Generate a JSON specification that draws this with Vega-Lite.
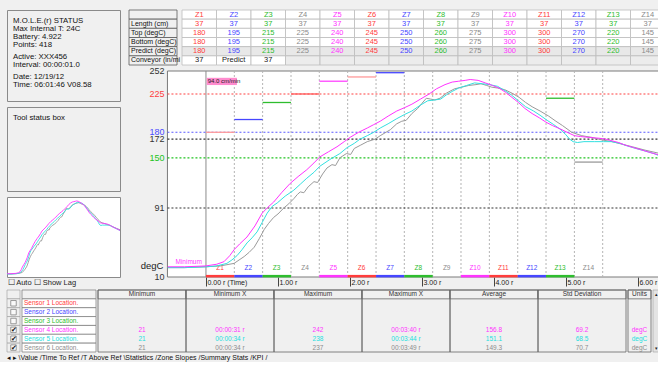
{
  "$schema": "https://vega.github.io/schema/vega-lite/v6.json",
  "background": "#f0f0f0",
  "padding": {"left": 6, "top": 9, "right": 0, "bottom": 0},
  "config": {
    "font": "Liberation Sans, Arial, sans-serif",
    "view": {"stroke": null},
    "axis": {"labelOverlap": false}
  },
  "datasets": {
    "status": [
      {"line": 0, "text": "M.O.L.E.(r) STATUS"},
      {"line": 1, "text": "Max Internal T: 24C"},
      {"line": 2, "text": "Battery: 4.922"},
      {"line": 3, "text": "Points: 418"},
      {"line": 4.5, "text": "Active: XXX456"},
      {"line": 5.5, "text": "Interval: 00:00:01.0"},
      {"line": 7, "text": "Date: 12/19/12"},
      {"line": 8, "text": "Time: 06:01:46 V08.58"}
    ],
    "ylabels": [
      {"v": "252", "T": 252},
      {"v": "225", "T": 225},
      {"v": "180", "T": 180},
      {"v": "172", "T": 172},
      {"v": "150", "T": 150},
      {"v": "91", "T": 91},
      {"v": "10", "T": 10}
    ],
    "zonetable": [
      {"row": "hdr", "label": "", "Z1": "Z1", "Z2": "Z2", "Z3": "Z3", "Z4": "Z4", "Z5": "Z5", "Z6": "Z6", "Z7": "Z7", "Z8": "Z8", "Z9": "Z9", "Z10": "Z10", "Z11": "Z11", "Z12": "Z12", "Z13": "Z13", "Z14": "Z14"},
      {"row": "len", "label": "Length (cm)", "Z1": "37", "Z2": "37", "Z3": "37", "Z4": "37", "Z5": "37", "Z6": "37", "Z7": "37", "Z8": "37", "Z9": "37", "Z10": "37", "Z11": "37", "Z12": "37", "Z13": "37", "Z14": "37"},
      {"row": "top", "label": "Top (degC)", "Z1": "180", "Z2": "195", "Z3": "215", "Z4": "225", "Z5": "240", "Z6": "245", "Z7": "250", "Z8": "260", "Z9": "275", "Z10": "300", "Z11": "300", "Z12": "270", "Z13": "220", "Z14": "145"},
      {"row": "bot", "label": "Bottom (degC)", "Z1": "180", "Z2": "195", "Z3": "215", "Z4": "225", "Z5": "240", "Z6": "245", "Z7": "250", "Z8": "260", "Z9": "275", "Z10": "300", "Z11": "300", "Z12": "270", "Z13": "220", "Z14": "145"},
      {"row": "pred", "label": "Predict (degC)", "Z1": "180", "Z2": "195", "Z3": "215", "Z4": "225", "Z5": "240", "Z6": "245", "Z7": "250", "Z8": "260", "Z9": "275", "Z10": "300", "Z11": "300", "Z12": "270", "Z13": "220", "Z14": "145"},
      {"row": "conv", "label": "Conveyor (in/mi", "Z1": "37", "Z2": "Predict", "Z3": "37", "Z4": "", "Z5": "", "Z6": "", "Z7": "", "Z8": "", "Z9": "", "Z10": "", "Z11": "", "Z12": "", "Z13": "", "Z14": ""}
    ],
    "zones": [
      {"zone": "Z1", "start": 0, "end": 0.394, "top": 180},
      {"zone": "Z2", "start": 0.394, "end": 0.787, "top": 195},
      {"zone": "Z3", "start": 0.787, "end": 1.181, "top": 215},
      {"zone": "Z4", "start": 1.181, "end": 1.574, "top": 225},
      {"zone": "Z5", "start": 1.574, "end": 1.968, "top": 240},
      {"zone": "Z6", "start": 1.968, "end": 2.362, "top": 245},
      {"zone": "Z7", "start": 2.362, "end": 2.755, "top": 250},
      {"zone": "Z8", "start": 2.755, "end": 3.149, "top": 260},
      {"zone": "Z9", "start": 3.149, "end": 3.542, "top": 275},
      {"zone": "Z10", "start": 3.542, "end": 3.936, "top": 300},
      {"zone": "Z11", "start": 3.936, "end": 4.33, "top": 300},
      {"zone": "Z12", "start": 4.33, "end": 4.723, "top": 270},
      {"zone": "Z13", "start": 4.723, "end": 5.117, "top": 220},
      {"zone": "Z14", "start": 5.117, "end": 5.51, "top": 145}
    ],
    "refs": [
      {"ref": "r225", "T": 225},
      {"ref": "r180", "T": 180},
      {"ref": "r172", "T": 172},
      {"ref": "r150", "T": 150},
      {"ref": "r91", "T": 91}
    ],
    "stats": [
      {"row": "hdr", "name": "", "chk": "", "Minimum": "Minimum", "MinX": "Minimum X", "Maximum": "Maximum", "MaxX": "Maximum X", "Average": "Average", "Std": "Std Deviation", "Units": "Units"},
      {"row": "S1", "name": "Sensor 1 Location.", "chk": "no", "Minimum": "", "MinX": "", "Maximum": "", "MaxX": "", "Average": "", "Std": "", "Units": ""},
      {"row": "S2", "name": "Sensor 2 Location.", "chk": "no", "Minimum": "", "MinX": "", "Maximum": "", "MaxX": "", "Average": "", "Std": "", "Units": ""},
      {"row": "S3", "name": "Sensor 3 Location.", "chk": "no", "Minimum": "", "MinX": "", "Maximum": "", "MaxX": "", "Average": "", "Std": "", "Units": ""},
      {"row": "S4", "name": "Sensor 4 Location.", "chk": "yes", "Minimum": "21", "MinX": "00:00:31 r", "Maximum": "242", "MaxX": "00:03:40 r", "Average": "156.8", "Std": "69.2", "Units": "degC"},
      {"row": "S5", "name": "Sensor 5 Location.", "chk": "yes", "Minimum": "21", "MinX": "00:00:34 r", "Maximum": "238", "MaxX": "00:03:44 r", "Average": "151.1", "Std": "68.5", "Units": "degC"},
      {"row": "S6", "name": "Sensor 6 Location.", "chk": "yes", "Minimum": "21", "MinX": "00:00:34 r", "Maximum": "237", "MaxX": "00:03:49 r", "Average": "149.3", "Std": "70.7", "Units": "degC"}
    ],
    "curves": [
      {"s": "S6", "t": -0.53, "T": 21}, {"s": "S6", "t": -0.3, "T": 21}, {"s": "S6", "t": 0, "T": 22}, {"s": "S6", "t": 0.2, "T": 23},
      {"s": "S6", "t": 0.39, "T": 26}, {"s": "S6", "t": 0.46, "T": 30}, {"s": "S6", "t": 0.53, "T": 34}, {"s": "S6", "t": 0.6, "T": 39},
      {"s": "S6", "t": 0.67, "T": 45}, {"s": "S6", "t": 0.74, "T": 55}, {"s": "S6", "t": 0.81, "T": 66}, {"s": "S6", "t": 0.87, "T": 73},
      {"s": "S6", "t": 0.94, "T": 80}, {"s": "S6", "t": 1.0, "T": 84}, {"s": "S6", "t": 1.08, "T": 91}, {"s": "S6", "t": 1.15, "T": 96},
      {"s": "S6", "t": 1.22, "T": 102}, {"s": "S6", "t": 1.27, "T": 107}, {"s": "S6", "t": 1.31, "T": 110}, {"s": "S6", "t": 1.36, "T": 109},
      {"s": "S6", "t": 1.42, "T": 116}, {"s": "S6", "t": 1.5, "T": 122}, {"s": "S6", "t": 1.55, "T": 121}, {"s": "S6", "t": 1.62, "T": 131},
      {"s": "S6", "t": 1.68, "T": 138}, {"s": "S6", "t": 1.75, "T": 142}, {"s": "S6", "t": 1.8, "T": 141}, {"s": "S6", "t": 1.86, "T": 150},
      {"s": "S6", "t": 1.95, "T": 155}, {"s": "S6", "t": 2.01, "T": 154}, {"s": "S6", "t": 2.06, "T": 161}, {"s": "S6", "t": 2.15, "T": 165},
      {"s": "S6", "t": 2.24, "T": 169}, {"s": "S6", "t": 2.35, "T": 172}, {"s": "S6", "t": 2.42, "T": 176}, {"s": "S6", "t": 2.5, "T": 180},
      {"s": "S6", "t": 2.56, "T": 183}, {"s": "S6", "t": 2.65, "T": 190}, {"s": "S6", "t": 2.72, "T": 193}, {"s": "S6", "t": 2.78, "T": 194},
      {"s": "S6", "t": 2.86, "T": 202}, {"s": "S6", "t": 2.94, "T": 208}, {"s": "S6", "t": 3.0, "T": 214}, {"s": "S6", "t": 3.06, "T": 220},
      {"s": "S6", "t": 3.12, "T": 219}, {"s": "S6", "t": 3.18, "T": 218}, {"s": "S6", "t": 3.25, "T": 220}, {"s": "S6", "t": 3.34, "T": 226},
      {"s": "S6", "t": 3.45, "T": 231}, {"s": "S6", "t": 3.55, "T": 233}, {"s": "S6", "t": 3.65, "T": 235}, {"s": "S6", "t": 3.75, "T": 236},
      {"s": "S6", "t": 3.82, "T": 237}, {"s": "S6", "t": 3.9, "T": 235}, {"s": "S6", "t": 3.97, "T": 233}, {"s": "S6", "t": 4.05, "T": 232},
      {"s": "S6", "t": 4.15, "T": 230}, {"s": "S6", "t": 4.25, "T": 226}, {"s": "S6", "t": 4.35, "T": 221}, {"s": "S6", "t": 4.44, "T": 215},
      {"s": "S6", "t": 4.53, "T": 210}, {"s": "S6", "t": 4.64, "T": 205}, {"s": "S6", "t": 4.76, "T": 199}, {"s": "S6", "t": 4.86, "T": 193},
      {"s": "S6", "t": 4.95, "T": 188}, {"s": "S6", "t": 5.08, "T": 180}, {"s": "S6", "t": 5.22, "T": 176}, {"s": "S6", "t": 5.36, "T": 174},
      {"s": "S6", "t": 5.5, "T": 171}, {"s": "S6", "t": 5.64, "T": 169}, {"s": "S6", "t": 5.78, "T": 166}, {"s": "S6", "t": 5.92, "T": 163},
      {"s": "S6", "t": 6.1, "T": 159}, {"s": "S6", "t": 6.31, "T": 155},
      {"s": "S5", "t": -0.53, "T": 21}, {"s": "S5", "t": -0.3, "T": 21}, {"s": "S5", "t": 0, "T": 22}, {"s": "S5", "t": 0.15, "T": 23},
      {"s": "S5", "t": 0.29, "T": 26}, {"s": "S5", "t": 0.36, "T": 30}, {"s": "S5", "t": 0.43, "T": 35}, {"s": "S5", "t": 0.5, "T": 42},
      {"s": "S5", "t": 0.57, "T": 50}, {"s": "S5", "t": 0.64, "T": 56}, {"s": "S5", "t": 0.71, "T": 63}, {"s": "S5", "t": 0.78, "T": 74},
      {"s": "S5", "t": 0.85, "T": 85}, {"s": "S5", "t": 0.92, "T": 93}, {"s": "S5", "t": 0.99, "T": 97}, {"s": "S5", "t": 1.1, "T": 105},
      {"s": "S5", "t": 1.22, "T": 112}, {"s": "S5", "t": 1.31, "T": 119}, {"s": "S5", "t": 1.4, "T": 126}, {"s": "S5", "t": 1.5, "T": 133},
      {"s": "S5", "t": 1.58, "T": 140}, {"s": "S5", "t": 1.72, "T": 148}, {"s": "S5", "t": 1.86, "T": 155}, {"s": "S5", "t": 1.96, "T": 162},
      {"s": "S5", "t": 2.06, "T": 167}, {"s": "S5", "t": 2.14, "T": 172}, {"s": "S5", "t": 2.24, "T": 176}, {"s": "S5", "t": 2.33, "T": 180},
      {"s": "S5", "t": 2.42, "T": 185}, {"s": "S5", "t": 2.53, "T": 190}, {"s": "S5", "t": 2.65, "T": 196}, {"s": "S5", "t": 2.76, "T": 201},
      {"s": "S5", "t": 2.86, "T": 205}, {"s": "S5", "t": 2.98, "T": 212}, {"s": "S5", "t": 3.08, "T": 217}, {"s": "S5", "t": 3.18, "T": 218},
      {"s": "S5", "t": 3.26, "T": 219}, {"s": "S5", "t": 3.34, "T": 224}, {"s": "S5", "t": 3.42, "T": 228}, {"s": "S5", "t": 3.51, "T": 232},
      {"s": "S5", "t": 3.62, "T": 235}, {"s": "S5", "t": 3.73, "T": 238}, {"s": "S5", "t": 3.84, "T": 237}, {"s": "S5", "t": 3.94, "T": 236},
      {"s": "S5", "t": 4.05, "T": 234}, {"s": "S5", "t": 4.15, "T": 229}, {"s": "S5", "t": 4.24, "T": 224}, {"s": "S5", "t": 4.34, "T": 217},
      {"s": "S5", "t": 4.44, "T": 210}, {"s": "S5", "t": 4.55, "T": 205}, {"s": "S5", "t": 4.64, "T": 200}, {"s": "S5", "t": 4.74, "T": 194},
      {"s": "S5", "t": 4.83, "T": 189}, {"s": "S5", "t": 4.93, "T": 183}, {"s": "S5", "t": 5.0, "T": 177}, {"s": "S5", "t": 5.05, "T": 172},
      {"s": "S5", "t": 5.1, "T": 169}, {"s": "S5", "t": 5.16, "T": 168}, {"s": "S5", "t": 5.25, "T": 169}, {"s": "S5", "t": 5.4, "T": 169},
      {"s": "S5", "t": 5.52, "T": 169}, {"s": "S5", "t": 5.63, "T": 169}, {"s": "S5", "t": 5.75, "T": 167}, {"s": "S5", "t": 5.85, "T": 164},
      {"s": "S5", "t": 5.97, "T": 161}, {"s": "S5", "t": 6.1, "T": 158}, {"s": "S5", "t": 6.22, "T": 155}, {"s": "S5", "t": 6.31, "T": 152},
      {"s": "S4", "t": -0.53, "T": 22}, {"s": "S4", "t": -0.3, "T": 22}, {"s": "S4", "t": 0, "T": 23}, {"s": "S4", "t": 0.15, "T": 25},
      {"s": "S4", "t": 0.25, "T": 28}, {"s": "S4", "t": 0.33, "T": 35}, {"s": "S4", "t": 0.39, "T": 42}, {"s": "S4", "t": 0.47, "T": 49},
      {"s": "S4", "t": 0.57, "T": 57}, {"s": "S4", "t": 0.68, "T": 70}, {"s": "S4", "t": 0.78, "T": 85}, {"s": "S4", "t": 0.86, "T": 92},
      {"s": "S4", "t": 0.94, "T": 98}, {"s": "S4", "t": 1.05, "T": 109}, {"s": "S4", "t": 1.17, "T": 120}, {"s": "S4", "t": 1.28, "T": 128},
      {"s": "S4", "t": 1.4, "T": 136}, {"s": "S4", "t": 1.5, "T": 144}, {"s": "S4", "t": 1.58, "T": 151}, {"s": "S4", "t": 1.7, "T": 157},
      {"s": "S4", "t": 1.82, "T": 163}, {"s": "S4", "t": 1.92, "T": 169}, {"s": "S4", "t": 2.0, "T": 174}, {"s": "S4", "t": 2.12, "T": 180},
      {"s": "S4", "t": 2.24, "T": 185}, {"s": "S4", "t": 2.33, "T": 189}, {"s": "S4", "t": 2.42, "T": 193}, {"s": "S4", "t": 2.53, "T": 199},
      {"s": "S4", "t": 2.65, "T": 205}, {"s": "S4", "t": 2.76, "T": 209}, {"s": "S4", "t": 2.86, "T": 213}, {"s": "S4", "t": 2.98, "T": 219},
      {"s": "S4", "t": 3.1, "T": 225}, {"s": "S4", "t": 3.2, "T": 231}, {"s": "S4", "t": 3.32, "T": 236}, {"s": "S4", "t": 3.42, "T": 239},
      {"s": "S4", "t": 3.51, "T": 240}, {"s": "S4", "t": 3.6, "T": 241}, {"s": "S4", "t": 3.67, "T": 242}, {"s": "S4", "t": 3.78, "T": 241},
      {"s": "S4", "t": 3.88, "T": 238}, {"s": "S4", "t": 3.98, "T": 235}, {"s": "S4", "t": 4.07, "T": 232}, {"s": "S4", "t": 4.16, "T": 227},
      {"s": "S4", "t": 4.25, "T": 221}, {"s": "S4", "t": 4.34, "T": 215}, {"s": "S4", "t": 4.43, "T": 208}, {"s": "S4", "t": 4.53, "T": 202},
      {"s": "S4", "t": 4.63, "T": 197}, {"s": "S4", "t": 4.72, "T": 192}, {"s": "S4", "t": 4.81, "T": 188}, {"s": "S4", "t": 4.92, "T": 184},
      {"s": "S4", "t": 5.04, "T": 179}, {"s": "S4", "t": 5.12, "T": 176}, {"s": "S4", "t": 5.2, "T": 175}, {"s": "S4", "t": 5.32, "T": 174},
      {"s": "S4", "t": 5.46, "T": 173}, {"s": "S4", "t": 5.55, "T": 172}, {"s": "S4", "t": 5.64, "T": 170}, {"s": "S4", "t": 5.73, "T": 168},
      {"s": "S4", "t": 5.82, "T": 165}, {"s": "S4", "t": 5.94, "T": 162}, {"s": "S4", "t": 6.06, "T": 159}, {"s": "S4", "t": 6.18, "T": 156},
      {"s": "S4", "t": 6.31, "T": 153}
    ]
  },
  "spacing": 2,
  "resolve": {"scale": {"color": "independent"}},
  "vconcat": [
    {
      "spacing": 7,
      "resolve": {"scale": {"color": "independent"}},
      "hconcat": [
        {
          "spacing": 4,
          "resolve": {"scale": {"color": "independent"}},
          "vconcat": [
            {
              "width": 113, "height": 91,
              "view": {"fill": "#f0f0f0", "stroke": "#8a8a8a"},
              "data": {"name": "status"},
              "mark": {"type": "text", "align": "left", "baseline": "middle", "fontSize": 7.8, "color": "#111111", "dx": 6},
              "encoding": {
                "x": {"datum": 0, "type": "quantitative", "scale": {"domain": [0, 1]}, "axis": null},
                "y": {"field": "line", "type": "quantitative", "scale": {"domain": [-1.375, 10], "reverse": true, "nice": false, "zero": false}, "axis": null},
                "text": {"field": "text"}
              }
            },
            {
              "width": 113, "height": 84,
              "view": {"fill": "#f0f0f0", "stroke": "#8a8a8a"},
              "data": {"values": [{"t": "Tool status box"}]},
              "mark": {"type": "text", "align": "left", "baseline": "top", "fontSize": 7.8, "color": "#111111", "dx": 6, "dy": 7},
              "encoding": {
                "x": {"datum": 0, "type": "quantitative", "scale": {"domain": [0, 1]}, "axis": null},
                "y": {"datum": 1, "type": "quantitative", "scale": {"domain": [0, 1]}, "axis": null},
                "text": {"field": "t"}
              }
            },
            {
              "width": 113, "height": 80,
              "view": {"fill": "#ffffff", "stroke": "#8a8a8a"},
              "data": {"name": "curves"},
              "mark": {"type": "line", "strokeWidth": 0.9, "clip": true},
              "encoding": {
                "x": {"field": "t", "type": "quantitative", "scale": {"domain": [-0.54, 6.31], "nice": false, "zero": false},
                  "axis": {"title": "☐ Auto    ☐ Show Lag", "labels": false, "ticks": false, "domain": false, "grid": false, "titleFontSize": 7.5, "titleFontWeight": "normal", "titleAnchor": "start", "titlePadding": 1, "titleColor": "#222222"}},
                "y": {"field": "T", "type": "quantitative", "scale": {"domain": [12, 254], "nice": false, "zero": false}, "axis": null},
                "color": {"field": "s", "type": "nominal", "scale": {"domain": ["S4", "S5", "S6"], "range": ["#ff33ff", "#33e0e0", "#9a9a9a"]}, "legend": null}
              }
            }
          ]
        },
        {
          "spacing": 1,
          "resolve": {"scale": {"color": "independent"}},
          "vconcat": [
            {
              "spacing": 0,
              "resolve": {"scale": {"color": "independent"}},
              "hconcat": [
                {
                  "width": 48, "height": 55,
                  "data": {"name": "zonetable"},
                  "encoding": {
                    "y": {"field": "row", "type": "nominal", "sort": null, "scale": {"type": "band", "domain": ["hdr", "len", "top", "bot", "pred", "conv"], "paddingInner": 0, "paddingOuter": 0}, "axis": null}
                  },
                  "layer": [
                    {"mark": {"type": "rect", "fill": "#f0f0f0", "stroke": "#5a5a5a", "strokeWidth": 0.8}},
                    {"mark": {"type": "text", "align": "left", "baseline": "middle", "fontSize": 7, "color": "#111111", "dx": 2},
                     "encoding": {"x": {"datum": 0, "type": "quantitative", "scale": {"domain": [0, 1]}, "axis": null}, "text": {"field": "label"}}}
                  ]
                },
                {
                  "width": 483, "height": 55,
                  "data": {"name": "zonetable"},
                  "transform": [{"fold": ["Z1", "Z2", "Z3", "Z4", "Z5", "Z6", "Z7", "Z8", "Z9", "Z10", "Z11", "Z12", "Z13", "Z14"], "as": ["zone", "val"]}],
                  "encoding": {
                    "x": {"field": "zone", "type": "nominal", "sort": null, "scale": {"type": "band", "domain": ["Z1", "Z2", "Z3", "Z4", "Z5", "Z6", "Z7", "Z8", "Z9", "Z10", "Z11", "Z12", "Z13", "Z14"], "paddingInner": 0, "paddingOuter": 0}, "axis": null},
                    "y": {"field": "row", "type": "nominal", "sort": null, "scale": {"type": "band", "domain": ["hdr", "len", "top", "bot", "pred", "conv"], "paddingInner": 0, "paddingOuter": 0}, "axis": null}
                  },
                  "layer": [
                    {"mark": {"type": "rect", "stroke": "#bdbdbd", "strokeWidth": 0.8},
                     "encoding": {"fill": {"condition": [{"test": "datum.row === 'pred'", "value": "#e8e8e8"}, {"test": "datum.row === 'conv' && indexof(['Z1','Z2','Z3'], datum.zone) < 0", "value": "#ececec"}], "value": "#ffffff"}}},
                    {"mark": {"type": "text", "align": "center", "baseline": "middle", "fontSize": 7.5},
                     "encoding": {
                       "text": {"field": "val"},
                       "color": {"condition": {"test": "datum.row === 'conv'", "value": "#222222"}, "field": "zone", "type": "nominal", "scale": {"domain": ["Z1", "Z2", "Z3", "Z4", "Z5", "Z6", "Z7", "Z8", "Z9", "Z10", "Z11", "Z12", "Z13", "Z14"], "range": ["#ff3c3c", "#4646ff", "#2ebd2e", "#8a8a8a", "#ff33ff", "#ff3c3c", "#4646ff", "#2ebd2e", "#8a8a8a", "#ff33ff", "#ff3c3c", "#4646ff", "#2ebd2e", "#8a8a8a"]}, "legend": null}
                     }}
                  ]
                }
              ]
            },
            {
              "width": 531, "height": 206,
              "view": {"stroke": null, "fill": null},
              "resolve": {"scale": {"color": "independent"}},
              "layer": [
                {
                  "data": {"values": [{}]},
                  "mark": {"type": "rect", "fill": "#ffffff", "stroke": "#7a7a7a", "strokeWidth": 1},
                  "encoding": {
                    "x": {"datum": -0.535, "type": "quantitative", "title": null, "scale": {"domain": [-1.069, 6.306], "nice": false, "zero": false}},
                    "x2": {"datum": 6.306},
                    "y": {"datum": 10, "type": "quantitative", "title": null, "scale": {"domain": [10, 252], "nice": false, "zero": false}, "axis": null},
                    "y2": {"datum": 252}
                  }
                },
                {
                  "data": {"name": "zones"},
                  "mark": {"type": "rule", "stroke": "#b4b4b4", "strokeDash": [2, 2], "strokeWidth": 1},
                  "encoding": {
                    "x": {"field": "end", "type": "quantitative", "title": null, "scale": {"domain": [-1.069, 6.306], "nice": false, "zero": false}}
                  }
                },
                {
                  "data": {"values": [{}]},
                  "mark": {"type": "rule", "stroke": "#8c8c8c", "strokeWidth": 1},
                  "encoding": {
                    "x": {"datum": 0, "type": "quantitative", "title": null, "scale": {"domain": [-1.069, 6.306], "nice": false, "zero": false}}
                  }
                },
                {
                  "data": {"name": "refs"},
                  "mark": {"type": "rule", "strokeDash": [2, 2], "strokeWidth": 1.1},
                  "encoding": {
                    "x": {"datum": -0.535, "type": "quantitative", "title": null, "scale": {"domain": [-1.069, 6.306], "nice": false, "zero": false}},
                    "x2": {"datum": 6.306},
                    "y": {"field": "T", "type": "quantitative", "title": null, "scale": {"domain": [10, 252], "nice": false, "zero": false}, "axis": null},
                    "color": {"field": "ref", "type": "nominal", "scale": {"domain": ["r225", "r180", "r172", "r150", "r91"], "range": ["#ff4040", "#5a5aff", "#333333", "#22c422", "#333333"]}, "legend": null}
                  }
                },
                {
                  "data": {"name": "zones"},
                  "transform": [{"filter": "datum.top <= 252"}],
                  "mark": {"type": "rule", "strokeWidth": 1.3},
                  "encoding": {
                    "x": {"field": "start", "type": "quantitative", "title": null, "scale": {"domain": [-1.069, 6.306], "nice": false, "zero": false}},
                    "x2": {"field": "end"},
                    "y": {"field": "top", "type": "quantitative", "title": null, "scale": {"domain": [10, 252], "nice": false, "zero": false}, "axis": null},
                    "color": {"field": "zone", "type": "nominal", "scale": {"domain": ["Z1", "Z2", "Z3", "Z4", "Z5", "Z6", "Z7", "Z13", "Z14"], "range": ["#ff9a9a", "#4646ff", "#2ebd2e", "#ff5a5a", "#ff44ff", "#ff9a9a", "#4646ff", "#2ebd2e", "#9a9a9a"]}, "legend": null}
                  }
                },
                {
                  "data": {"name": "zones"},
                  "transform": [{"filter": "indexof(['Z4','Z9','Z14'], datum.zone) < 0"}],
                  "mark": {"type": "rule", "strokeWidth": 2.5},
                  "encoding": {
                    "x": {"field": "start", "type": "quantitative", "title": null, "scale": {"domain": [-1.069, 6.306], "nice": false, "zero": false}},
                    "x2": {"field": "end"},
                    "y": {"datum": 11, "type": "quantitative", "title": null, "scale": {"domain": [10, 252], "nice": false, "zero": false}, "axis": null},
                    "color": {"field": "zone", "type": "nominal", "scale": {"domain": ["Z1", "Z2", "Z3", "Z4", "Z5", "Z6", "Z7", "Z8", "Z9", "Z10", "Z11", "Z12", "Z13", "Z14"], "range": ["#ff3c3c", "#4646ff", "#2ebd2e", "#8a8a8a", "#ff33ff", "#ff3c3c", "#4646ff", "#2ebd2e", "#8a8a8a", "#ff33ff", "#ff3c3c", "#4646ff", "#2ebd2e", "#8a8a8a"]}, "legend": null}
                  }
                },
                {
                  "data": {"name": "zones"},
                  "mark": {"type": "text", "fontSize": 6.5, "dx": 14, "align": "center", "baseline": "middle"},
                  "encoding": {
                    "x": {"field": "start", "type": "quantitative", "title": null, "scale": {"domain": [-1.069, 6.306], "nice": false, "zero": false}},
                    "y": {"datum": 20.5, "type": "quantitative", "title": null, "scale": {"domain": [10, 252], "nice": false, "zero": false}, "axis": null},
                    "text": {"field": "zone"},
                    "color": {"field": "zone", "type": "nominal", "scale": {"domain": ["Z1", "Z2", "Z3", "Z4", "Z5", "Z6", "Z7", "Z8", "Z9", "Z10", "Z11", "Z12", "Z13", "Z14"], "range": ["#ff3c3c", "#4646ff", "#2ebd2e", "#8a8a8a", "#ff33ff", "#ff3c3c", "#4646ff", "#2ebd2e", "#8a8a8a", "#ff33ff", "#ff3c3c", "#4646ff", "#2ebd2e", "#8a8a8a"]}, "legend": null}
                  }
                },
                {
                  "data": {"values": [{}]},
                  "mark": {"type": "rect", "fill": "#ff8ccf"},
                  "encoding": {
                    "x": {"datum": 0.01, "type": "quantitative", "title": null, "scale": {"domain": [-1.069, 6.306], "nice": false, "zero": false}},
                    "x2": {"datum": 0.43},
                    "y": {"datum": 235.5, "type": "quantitative", "title": null, "scale": {"domain": [10, 252], "nice": false, "zero": false}, "axis": null},
                    "y2": {"datum": 244}
                  }
                },
                {
                  "data": {"values": [{"label": "94.0 cm/min"}]},
                  "mark": {"type": "text", "fontSize": 6, "align": "left", "baseline": "middle", "color": "#222222", "dx": 1},
                  "encoding": {
                    "x": {"datum": 0.01, "type": "quantitative", "title": null, "scale": {"domain": [-1.069, 6.306], "nice": false, "zero": false}},
                    "y": {"datum": 239.8, "type": "quantitative", "title": null, "scale": {"domain": [10, 252], "nice": false, "zero": false}, "axis": null},
                    "text": {"field": "label"}
                  }
                },
                {
                  "data": {"values": [{"label": "Minimum"}]},
                  "mark": {"type": "text", "fontSize": 6.5, "align": "center", "baseline": "bottom", "color": "#ff33ff"},
                  "encoding": {
                    "x": {"datum": -0.24, "type": "quantitative", "title": null, "scale": {"domain": [-1.069, 6.306], "nice": false, "zero": false}},
                    "y": {"datum": 24, "type": "quantitative", "title": null, "scale": {"domain": [10, 252], "nice": false, "zero": false}, "axis": null},
                    "text": {"field": "label"}
                  }
                },
                {
                  "data": {"values": [{"label": "degC"}]},
                  "mark": {"type": "text", "fontSize": 9.5, "align": "right", "baseline": "middle", "color": "#222222", "dx": -4},
                  "encoding": {
                    "x": {"datum": -0.535, "type": "quantitative", "title": null, "scale": {"domain": [-1.069, 6.306], "nice": false, "zero": false}},
                    "y": {"datum": 23, "type": "quantitative", "title": null, "scale": {"domain": [10, 252], "nice": false, "zero": false}, "axis": null},
                    "text": {"field": "label"}
                  }
                },
                {
                  "data": {"name": "ylabels"},
                  "mark": {"type": "text", "fontSize": 9, "align": "right", "baseline": "middle", "dx": -3},
                  "encoding": {
                    "x": {"datum": -0.535, "type": "quantitative", "title": null, "scale": {"domain": [-1.069, 6.306], "nice": false, "zero": false}},
                    "y": {"field": "T", "type": "quantitative", "title": null, "scale": {"domain": [10, 252], "nice": false, "zero": false}, "axis": null},
                    "yOffset": {"condition": [{"test": "datum.v === '180'", "value": -1.6}, {"test": "datum.v === '172'", "value": 1.6}], "value": 0},
                    "text": {"field": "v"},
                    "color": {"field": "v", "type": "nominal", "scale": {"domain": ["252", "225", "180", "172", "150", "91", "10"], "range": ["#333333", "#ff4040", "#4a4aff", "#333333", "#22c422", "#333333", "#333333"]}, "legend": null}
                  }
                },
                {
                  "data": {"name": "curves"},
                  "mark": {"type": "line", "strokeWidth": 1, "clip": true},
                  "encoding": {
                    "x": {"field": "t", "type": "quantitative", "title": null, "scale": {"domain": [-1.069, 6.306], "nice": false, "zero": false},
                      "axis": {"values": [0, 1, 2, 3, 4, 5, 6], "labelExpr": "datum.value == 0 ? '0.00 r (Time)' : format(datum.value, '.2f') + ' r'", "labelAlign": "left", "labelBaseline": "top", "labelOffset": 1, "labelPadding": -8, "tickSize": 9, "tickColor": "#444444", "domain": false, "grid": false, "title": null, "labelFontSize": 7, "labelColor": "#222222", "labelFlush": false, "labelOverlap": false}},
                    "y": {"field": "T", "type": "quantitative", "title": null, "scale": {"domain": [10, 252], "nice": false, "zero": false}, "axis": null},
                    "color": {"field": "s", "type": "nominal", "scale": {"domain": ["S4", "S5", "S6"], "range": ["#ff33ff", "#33e0e0", "#9a9a9a"]}, "legend": null}
                  }
                }
              ]
            }
          ]
        }
      ]
    },
    {
      "spacing": 0,
      "resolve": {"scale": {"color": "independent"}},
      "title": {"text": "◂ ▸ \\Value /Time To Ref /T Above Ref \\Statistics /Zone Slopes /Summary Stats /KPI /", "orient": "bottom", "anchor": "start", "fontSize": 7, "fontWeight": "normal", "color": "#111111", "offset": 2},
      "hconcat": [
        {
          "width": 13, "height": 62,
          "data": {"name": "stats"},
          "encoding": {
            "y": {"field": "row", "type": "nominal", "sort": null, "scale": {"type": "band", "domain": ["hdr", "S1", "S2", "S3", "S4", "S5", "S6"], "paddingInner": 0, "paddingOuter": 0}, "axis": null}
          },
          "layer": [
            {"mark": {"type": "rect", "fill": "#f0f0f0", "stroke": "#9a9a9a", "strokeWidth": 0.6}},
            {"transform": [{"filter": "datum.row !== 'hdr'"}],
             "mark": {"type": "point", "shape": "square", "size": 30, "filled": true, "fill": "#ffffff", "stroke": "#555555", "strokeWidth": 0.8},
             "encoding": {"x": {"datum": 0.5, "type": "quantitative", "scale": {"domain": [0, 1]}, "axis": null}}},
            {"transform": [{"filter": "datum.chk === 'yes'"}],
             "mark": {"type": "text", "text": "✔", "fontSize": 7, "color": "#111111", "align": "center", "baseline": "middle"},
             "encoding": {"x": {"datum": 0.5, "type": "quantitative", "scale": {"domain": [0, 1]}, "axis": null}}}
          ]
        },
        {
          "width": 74, "height": 62,
          "data": {"name": "stats"},
          "encoding": {
            "y": {"field": "row", "type": "nominal", "sort": null, "scale": {"type": "band", "domain": ["hdr", "S1", "S2", "S3", "S4", "S5", "S6"], "paddingInner": 0, "paddingOuter": 0}, "axis": null}
          },
          "layer": [
            {"mark": {"type": "rect", "stroke": "#777777", "strokeWidth": 0.7},
             "encoding": {"fill": {"condition": {"test": "datum.row === 'hdr'", "value": "#f0f0f0"}, "value": "#ffffff"}}},
            {"mark": {"type": "text", "align": "left", "baseline": "middle", "fontSize": 6.5, "dx": 2},
             "encoding": {
               "x": {"datum": 0, "type": "quantitative", "scale": {"domain": [0, 1]}, "axis": null},
               "text": {"field": "name"},
               "color": {"field": "row", "type": "nominal", "scale": {"domain": ["hdr", "S1", "S2", "S3", "S4", "S5", "S6"], "range": ["#333333", "#ff3c3c", "#4646ff", "#2ebd2e", "#ff33ff", "#22dede", "#8c8c8c"]}, "legend": null}
             }}
          ]
        },
        {
          "width": 528, "height": 62,
          "data": {"name": "stats"},
          "transform": [{"fold": ["Minimum", "MinX", "Maximum", "MaxX", "Average", "Std"], "as": ["col", "val"]}],
          "encoding": {
            "x": {"field": "col", "type": "nominal", "sort": null, "scale": {"type": "band", "domain": ["Minimum", "MinX", "Maximum", "MaxX", "Average", "Std"], "paddingInner": 0, "paddingOuter": 0}, "axis": null}
          },
          "layer": [
            {"transform": [{"filter": "datum.row === 'hdr'"}],
             "mark": {"type": "rect", "fill": "#f0f0f0", "stroke": "#666666", "strokeWidth": 0.8},
             "encoding": {"y": {"field": "row", "type": "nominal", "sort": null, "scale": {"type": "band", "domain": ["hdr", "S1", "S2", "S3", "S4", "S5", "S6"], "paddingInner": 0, "paddingOuter": 0}, "axis": null}}},
            {"transform": [{"filter": "datum.row === 'hdr'"}],
             "mark": {"type": "rect", "fillOpacity": 0, "fill": "#ffffff", "stroke": "#666666", "strokeWidth": 0.8}},
            {"mark": {"type": "text", "align": "center", "baseline": "middle", "fontSize": 6.5},
             "encoding": {
               "y": {"field": "row", "type": "nominal", "sort": null, "scale": {"type": "band", "domain": ["hdr", "S1", "S2", "S3", "S4", "S5", "S6"], "paddingInner": 0, "paddingOuter": 0}, "axis": null},
               "text": {"field": "val"},
               "fontWeight": {"condition": {"test": "datum.row === 'S4' && datum.col === 'MinX'", "value": "bold"}, "value": "normal"},
               "color": {"field": "row", "type": "nominal", "scale": {"domain": ["hdr", "S1", "S2", "S3", "S4", "S5", "S6"], "range": ["#333333", "#ff3c3c", "#4646ff", "#2ebd2e", "#ff33ff", "#22dede", "#8c8c8c"]}, "legend": null}
             }}
          ]
        },
        {
          "width": 23, "height": 62,
          "data": {"name": "stats"},
          "layer": [
            {"transform": [{"filter": "datum.row === 'hdr'"}],
             "mark": {"type": "rect", "fill": "#f0f0f0", "stroke": "#666666", "strokeWidth": 0.8},
             "encoding": {"y": {"field": "row", "type": "nominal", "sort": null, "scale": {"type": "band", "domain": ["hdr", "S1", "S2", "S3", "S4", "S5", "S6"], "paddingInner": 0, "paddingOuter": 0}, "axis": null}}},
            {"transform": [{"filter": "datum.row === 'hdr'"}],
             "mark": {"type": "rect", "fillOpacity": 0, "fill": "#ffffff", "stroke": "#666666", "strokeWidth": 0.8}},
            {"mark": {"type": "text", "align": "center", "baseline": "middle", "fontSize": 6.5},
             "encoding": {
               "y": {"field": "row", "type": "nominal", "sort": null, "scale": {"type": "band", "domain": ["hdr", "S1", "S2", "S3", "S4", "S5", "S6"], "paddingInner": 0, "paddingOuter": 0}, "axis": null},
               "text": {"field": "Units"},
               "color": {"field": "row", "type": "nominal", "scale": {"domain": ["hdr", "S1", "S2", "S3", "S4", "S5", "S6"], "range": ["#333333", "#ff3c3c", "#4646ff", "#2ebd2e", "#ff33ff", "#22dede", "#8c8c8c"]}, "legend": null}
             }}
          ]
        },
        {
          "width": 6, "height": 62,
          "data": {"values": [{"row": "hdr", "a": "▴"}, {"row": "S6", "a": "▾"}]},
          "layer": [
            {"data": {"values": [{}]}, "mark": {"type": "rect", "fill": "#e4e4e4", "stroke": "#a0a0a0", "strokeWidth": 0.6}},
            {"mark": {"type": "text", "align": "center", "baseline": "middle", "fontSize": 5, "color": "#222222"},
             "encoding": {
               "y": {"field": "row", "type": "nominal", "sort": null, "scale": {"type": "band", "domain": ["hdr", "S1", "S2", "S3", "S4", "S5", "S6"], "paddingInner": 0, "paddingOuter": 0}, "axis": null},
               "text": {"field": "a"}
             }}
          ]
        }
      ]
    }
  ]
}
